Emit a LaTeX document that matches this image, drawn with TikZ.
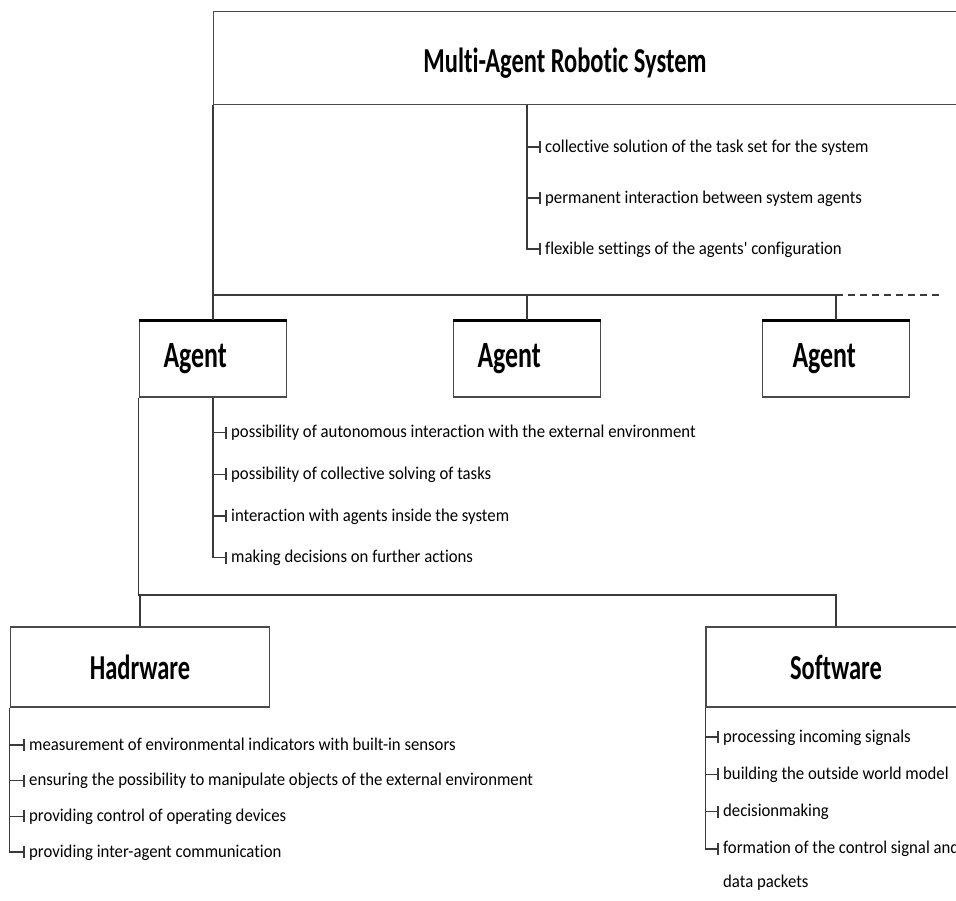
\documentclass[tikz,border=0pt]{standalone}
\usepackage{fontspec}
\setmainfont{Carlito}[Ligatures=CommonOff]
\newfontfamily\headfont[FakeStretch=0.7, Ligatures=CommonOff]{Carlito}
\newfontfamily\itemfont[FakeStretch=0.93, Ligatures=CommonOff]{Carlito}
\usepackage{tikz}
\usetikzlibrary{positioning, calc}
\definecolor{lineGrey}{HTML}{3A3A3A}
\definecolor{boxGrey}{HTML}{4A4A4A}

\begin{document}
\begin{tikzpicture}[x=1pt, y=-1pt,
    wire/.style={draw=lineGrey, line width=1.3pt},
    tickbar/.style={draw=lineGrey, line width=1.1pt},
    headtxt/.style={font=\headfont\bfseries\fontsize{35}{40}\selectfont, inner sep=0pt},
    mainbox/.style={headtxt, draw=boxGrey, line width=1.4pt, fill=white, inner sep=0pt},
    agentbox/.style={mainbox, font=\headfont\bfseries\fontsize{37}{40}\selectfont,
      minimum width=147, minimum height=76, text width=99, inner xsep=24, align=left},
    item/.style={font=\itemfont\fontsize{18}{34}\selectfont, inner sep=0pt, anchor=base west}]
  \useasboundingbox (0,0) rectangle (956,900);
  \clip (0,0) rectangle (956,900);

  % ── Multi-Agent Robotic System ──
  \node[mainbox, minimum width=760, minimum height=93, anchor=north west] (mars) at (213,11) {};
  \node[headtxt] (title) at (565,63) {Multi-Agent Robotic System};
  \foreach \txt [count=\k] in {collective solution of the task set for the system,
      permanent interaction between system agents,
      flexible settings of the agents' configuration} {
    \node[item] (s\k) at (545, 101+51*\k) {\txt};
    \coordinate (st\k) at ($(s\k.base west)+(-5,-5)$);
    \draw[tickbar] (st\k) ++(0,-6) -- ++(0,12);
  }
  \coordinate (sx) at ($(st1)+(-13,0)$);
  \draw[wire] (sx |- mars.south) -- (sx |- st3) -- (st3);
  \foreach \k in {1,2} \draw[wire] (sx |- st\k) -- (st\k);

  % ── Agents ──
  \node[agentbox] (ag1) at (213,359) {Agent};
  \node[agentbox] (ag2) at (527,359) {Agent};
  \node[agentbox, inner xsep=30, text width=87] (ag3) at (836,359) {Agent};
  \foreach \k in {1,2,3} \draw[line width=3pt] (ag\k.north west) -- (ag\k.north east);
  \coordinate (busone) at (0,295);
  \draw[wire] (mars.south west) -- (ag1.north);
  \draw[wire] (ag1.north |- busone) -| (ag3.north);
  \draw[wire] (ag2.north |- busone) -- (ag2.north);
  \draw[wire, dashed, dash pattern=on 7pt off 5pt] (ag3.north |- busone) -- ++(106,0);

  % agent properties
  \foreach \txt [count=\k] in {possibility of autonomous interaction with the external environment,
      possibility of collective solving of tasks,
      interaction with agents inside the system,
      making decisions on further actions} {
    \node[item] (a\k) at (231, 396+41.7*\k) {\txt};
    \coordinate (at\k) at ($(a\k.base west)+(-5,-5)$);
    \draw[tickbar] (at\k) ++(0,-6) -- ++(0,12);
  }
  \draw[wire] (ag1.south) -- (ag1.south |- at4) -- (at4);
  \foreach \k in {1,2,3} \draw[wire] (ag1.south |- at\k) -- (at\k);

  % ── Hardware / Software ──
  \node[mainbox, minimum width=259, minimum height=80] (hw) at (140,667) {Hadrware};
  \node[mainbox, minimum width=260, minimum height=80] (sw) at (836,667) {Software};
  \coordinate (bustwo) at (0,595);
  \draw[wire] (ag1.south west) |- (sw.north |- bustwo) -- (sw.north);
  \draw[wire] (hw.north |- bustwo) -- (hw.north);

  \foreach \txt [count=\k] in {measurement of environmental indicators with built-in sensors,
      ensuring the possibility to manipulate objects of the external environment,
      providing control of operating devices,
      providing inter-agent communication} {
    \node[item] (h\k) at (29, 714.3+35.7*\k) {\txt};
    \coordinate (ht\k) at ($(h\k.base west)+(-5,-5)$);
    \draw[tickbar] (ht\k) ++(0,-6) -- ++(0,12);
  }
  \draw[wire] (hw.south west) -- (hw.south west |- ht4) -- (ht4);
  \foreach \k in {1,2,3} \draw[wire] (hw.south west |- ht\k) -- (ht\k);

  \foreach \txt [count=\k] in {processing incoming signals,
      building the outside world model,
      decisionmaking,
      {\vtop{\hbox{formation of the control signal and}\hbox{data packets}}}} {
    \node[item] (w\k) at (723, 704.7+37.3*\k) {\txt};
    \coordinate (wt\k) at ($(w\k.base west)+(-5,-5)$);
    \draw[tickbar] (wt\k) ++(0,-6) -- ++(0,12);
  }
  \draw[wire] (sw.south west) -- (sw.south west |- wt4) -- (wt4);
  \foreach \k in {1,2,3} \draw[wire] (sw.south west |- wt\k) -- (wt\k);
\end{tikzpicture}
\end{document}
